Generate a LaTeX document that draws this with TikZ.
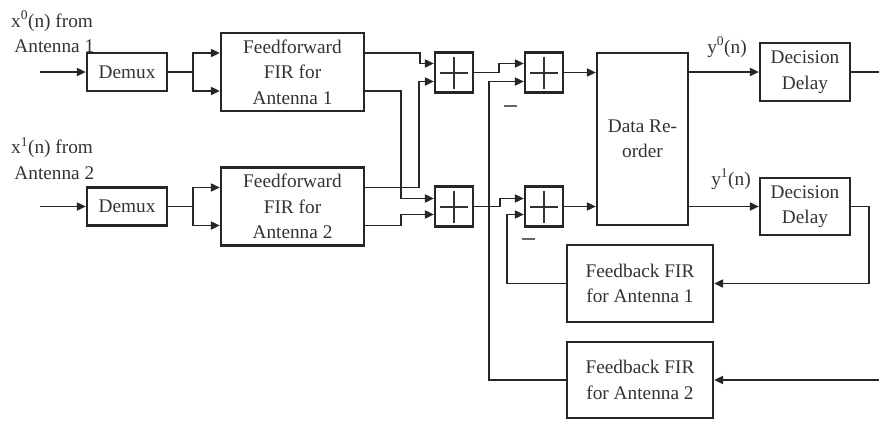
\documentclass[tikz,border=0pt]{standalone}
\usepackage{fontspec}
\setmainfont{Liberation Serif}
\usetikzlibrary{arrows.meta,calc}
\begin{document}
\begin{tikzpicture}[x=1pt,y=-1pt,
  every node/.style={font=\fontsize{19.3}{25.5}\selectfont, text=black!80},
  blk/.style={draw=black!85, line width=2.2pt, align=center, inner sep=0pt},
  sumbox/.style={draw=black!85, line width=2.2pt, inner sep=0pt, minimum width=38pt, minimum height=40pt,
    path picture={
      \draw[line width=2pt, black!80] ([xshift=5pt]path picture bounding box.west) -- ([xshift=-5pt]path picture bounding box.east);
      \draw[line width=2pt, black!80] ([yshift=-4pt]path picture bounding box.north) -- ([yshift=4pt]path picture bounding box.south);
    }},
  conn/.style={draw=black!85, line width=1.8pt},
  arr/.style={conn, -{Triangle[length=9pt,width=8pt]}},
  lbl/.style={align=left, inner sep=0pt},
  minus/.style={inner sep=0pt, text=black!60}
]
\useasboundingbox (0,0) rectangle (879,421);

% blocks
\node[blk, minimum width=80pt, minimum height=38pt] (D1) at (127,72) {Demux};
\node[blk, minimum width=80pt, minimum height=38pt] (D2) at (127,206.5) {Demux};
\node[blk, minimum width=143pt, minimum height=78pt] (FF1) at (292.5,72) {Feedforward\\FIR for\\Antenna 1};
\node[blk, minimum width=143pt, minimum height=78pt] (FF2) at (292.5,206.5) {Feedforward\\FIR for\\Antenna 2};
\node[sumbox] (S1) at (454,72.5) {};
\node[sumbox] (S2) at (454,206.5) {};
\node[sumbox] (S3) at (544,72.5) {};
\node[sumbox] (S4) at (544,206.5) {};
\node[blk, minimum width=91pt, minimum height=172pt] (DR) at (642.5,139) {Data Re-\\order};
\node[blk, minimum width=90pt, minimum height=58pt] (DD1) at (805,72) {Decision\\Delay};
\node[blk, minimum width=90pt, minimum height=57pt] (DD2) at (805,206.5) {Decision\\Delay};
\node[blk, minimum width=146pt, minimum height=77pt] (FB1) at (640,283.5) {Feedback FIR\\for Antenna 1};
\node[blk, minimum width=146pt, minimum height=76pt] (FB2) at (640,380) {Feedback FIR\\for Antenna 2};

% labels
\node[lbl, anchor=west] (L1) at (11,32) {x\textsuperscript{0}(n) from\\\,Antenna 1};
\node[lbl, anchor=west] (L2) at (11,158.5) {x\textsuperscript{1}(n) from\\\,Antenna 2};
\node (Y0) at (727,47) {y\textsuperscript{0}(n)};
\node (Y1) at (731,179) {y\textsuperscript{1}(n)};
\node[minus] (M1) at (510,106) {\rule{13pt}{2pt}};
\node[minus] (M2) at (528,239) {\rule{13pt}{2pt}};

% coordinates
\coordinate (I1) at (40,72);
\coordinate (I2) at (40,206.5);
\coordinate (E1) at (879,72);
\coordinate (E2) at (879,380);

% inputs
\draw[arr] (I1) -- (D1.west);
\draw[arr] (I2) -- (D2.west);
\draw[conn] (D1.east) -- ++(25,0) coordinate (B1);
\draw[arr] (B1) |- ([yshift=19pt]FF1.west);
\draw[arr] (B1) |- ([yshift=-19pt]FF1.west);
\draw[conn] (D2.east) -- ++(25,0) coordinate (B2);
\draw[arr] (B2) |- ([yshift=19pt]FF2.west);
\draw[arr] (B2) |- ([yshift=-19pt]FF2.west);

% feedforward to sums
\draw[arr] ([yshift=19pt]FF1.east) -- ++(55,0) |- ([yshift=9pt]S1.west);
\draw[arr] ([yshift=-19pt]FF1.east) -- ++(36,0) |- ([yshift=8pt]S2.west);
\draw[arr] ([yshift=19pt]FF2.east) -- ++(54,0) |- ([yshift=-9pt]S1.west);
\draw[arr] ([yshift=-19pt]FF2.east) -- ++(36,0) |- ([yshift=-8pt]S2.west);

% sums to sums
\draw[arr] (S1.east) -- ++(25,0) |- ([yshift=9pt]S3.west);
\draw[arr] (S2.east) -- ++(26,0) |- ([yshift=8pt]S4.west);

% feedback
\draw[arr] (FB2.west) -- ++(-77,0) |- ([yshift=-9pt]S3.west);
\draw[arr] (FB1.west) -- ++(-59,0) |- ([yshift=-8pt]S4.west);

% to data reorder
\draw[arr] (S3.east) -- (S3.east -| DR.west);
\draw[arr] (S4.east) -- (S4.east -| DR.west);
\draw[arr] (DD1.west -| DR.east) -- (DD1.west);
\draw[arr] (DD2.west -| DR.east) -- (DD2.west);

% outputs
\draw[conn] (DD1.east) -- (E1);
\draw[arr] (DD2.east) -- ++(18,0) |- (FB1.east);
\draw[arr] (E2) -- (FB2.east);
\end{tikzpicture}
\end{document}
